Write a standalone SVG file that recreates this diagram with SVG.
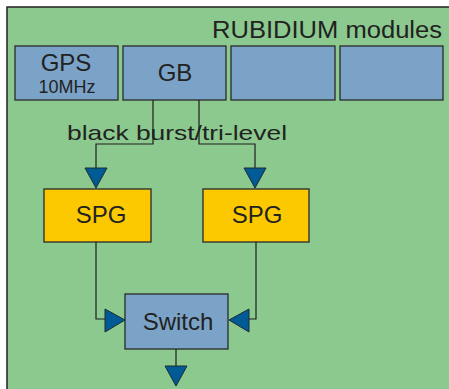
<svg xmlns="http://www.w3.org/2000/svg" width="449" height="389" viewBox="0 0 449 389">
<style>
.bg{fill:#8cc98e;stroke:#222;stroke-width:1.5}
.blue{fill:#7ba3c8;stroke:#2a2a2a;stroke-width:1.3}
.yel{fill:#fcc800;stroke:#2a2a2a;stroke-width:1.3}
.ln{fill:none;stroke:#1e1e1e;stroke-width:1.2}
.ar{fill:#005a96;stroke:#1e2a30;stroke-width:1}
text{font-family:"Liberation Sans","DejaVu Sans",sans-serif;fill:#222}
</style>
<rect class="bg" x="7" y="7" width="460" height="400"/>
<text x="442" y="38" font-size="23" text-anchor="end" textLength="230" lengthAdjust="spacingAndGlyphs">RUBIDIUM modules</text>
<g id="gps">
<rect class="blue" x="15" y="46" width="103" height="54"/>
<text x="66" y="71" font-size="24" text-anchor="middle">GPS</text>
<text x="67" y="93" font-size="18" text-anchor="middle">10MHz</text>
</g>
<g id="gb">
<rect class="blue" x="123" y="46" width="103" height="54"/>
<text x="175" y="81" font-size="24" text-anchor="middle">GB</text>
</g>
<g id="rb3"><rect class="blue" x="231" y="46" width="104" height="54"/></g>
<g id="rb4"><rect class="blue" x="340" y="46" width="103" height="54"/></g>
<text x="67" y="140" font-size="21" textLength="220" lengthAdjust="spacingAndGlyphs">black burst/tri-level</text>
<g id="spg1">
<rect class="yel" x="44" y="189" width="107" height="53"/>
<text x="101" y="223" font-size="24" text-anchor="middle">SPG</text>
</g>
<g id="spg2">
<rect class="yel" x="203" y="189" width="106" height="53"/>
<text x="257" y="223" font-size="24" text-anchor="middle">SPG</text>
</g>
<g id="switch">
<rect class="blue" x="125" y="294" width="103" height="55"/>
<text x="178" y="330" font-size="24" text-anchor="middle">Switch</text>
</g>
<g id="connectors">
<polyline class="ln" points="153,100 153,144 96,144 96,168"/>
<polyline class="ln" points="199,100 199,144 255,144 255,168"/>
<polyline class="ln" points="96,242 96,319 105,319"/>
<polyline class="ln" points="256,242 256,319 249,319"/>
<line class="ln" x1="176" y1="349" x2="176" y2="366"/>
<polygon class="ar" points="85,168 107,168 96,188"/>
<polygon class="ar" points="244,168 266,168 255,188"/>
<polygon class="ar" points="105,309 105,332 125,320"/>
<polygon class="ar" points="249,309 249,332 229,320"/>
<polygon class="ar" points="165,366 187,366 176,386"/>
</g>
</svg>
